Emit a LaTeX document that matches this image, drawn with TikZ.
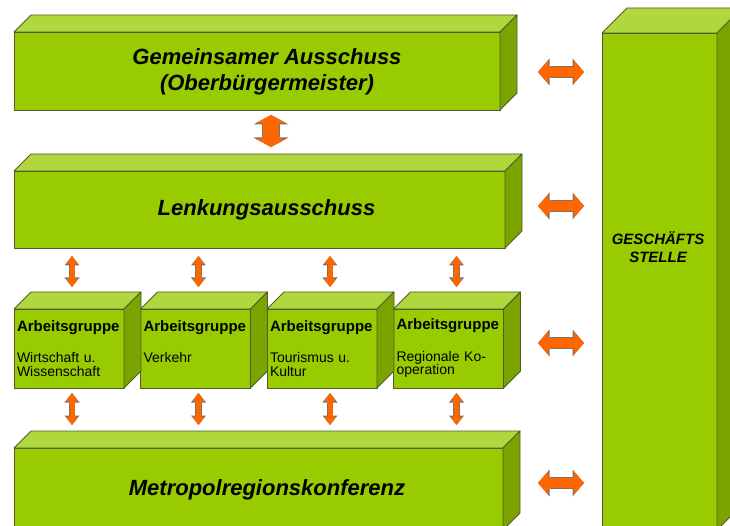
\documentclass[tikz,border=0pt]{standalone}
\usepackage{fontspec}
\setmainfont{Liberation Sans}
\usepackage{tikz}
\usetikzlibrary{arrows.meta, positioning, calc}

\definecolor{frontgreen}{HTML}{99CC00}
\definecolor{topgreen}{HTML}{B0D83E}
\definecolor{sidegreen}{HTML}{7CA400}
\definecolor{boxedge}{HTML}{505C2C}
\definecolor{arroworange}{HTML}{FF6600}
\definecolor{arrowedge}{HTML}{86705F}

\newcommand{\grouphead}{{\fontsize{15}{13.5}\selectfont\bfseries Arbeitsgruppe}}

\begin{document}
\begin{tikzpicture}[
    x=1pt, y=1pt,
    block/.style={rectangle, draw=boxedge, fill=frontgreen, line width=0.8pt, outer sep=0pt, inner sep=0pt, anchor=north west},
    wide/.style={block, minimum width=#1},
    group/.style={block, minimum width=110pt, minimum height=79pt, inner xsep=3pt, text width=104pt, align=left, font=\fontsize{14}{13.5}\selectfont},
    title/.style={font=\fontsize{22}{26}\selectfont\bfseries\itshape, align=center},
    sidetitle/.style={font=\fontsize{15}{18}\selectfont\bfseries\itshape, align=center},
    topface/.style={draw=boxedge, fill=topgreen, line width=0.8pt, line join=round},
    sideface/.style={draw=boxedge, fill=sidegreen, line width=0.8pt, line join=round},
    hlink/.style={draw=arroworange, line width=10pt,
        {Triangle[width=23pt,length=10pt,line width=0pt]}-{Triangle[width=23pt,length=10pt,line width=0pt]},
        preaction={draw=arrowedge, line width=11.6pt,
        {Triangle[width=27pt,length=11.5pt,line width=0pt]}-{Triangle[width=27pt,length=11.5pt,line width=0pt]}}},
    vlink/.style={draw=arroworange, line width=5pt,
        {Triangle[width=12pt,length=8pt,line width=0pt]}-{Triangle[width=12pt,length=8pt,line width=0pt]},
        preaction={draw=arrowedge, line width=6.4pt,
        {Triangle[width=15pt,length=9.5pt,line width=0pt]}-{Triangle[width=15pt,length=9.5pt,line width=0pt]}}},
    biglink/.style={draw=arroworange, line width=16pt,
        {Triangle[width=30pt,length=8pt,line width=0pt]}-{Triangle[width=30pt,length=8pt,line width=0pt]},
        preaction={draw=arrowedge, line width=17.6pt,
        {Triangle[width=35pt,length=9.5pt,line width=0pt]}-{Triangle[width=35pt,length=9.5pt,line width=0pt]}}}
]
\useasboundingbox (0,0) rectangle (730,525);
\fill[white] (0,0) rectangle (730,525);

% main boxes
\node[wide=486pt, minimum height=78pt,
    label={[title, xshift=10pt, yshift=-1pt]center:{Gemeinsamer Ausschuss\\(Oberbürgermeister)}}] (ga) at (14,493) {};
\node[wide=491pt, minimum height=77pt,
    label={[title, xshift=7pt]center:Lenkungsausschuss}] (lenk) at (14,354) {};
\node[wide=489pt, minimum height=82pt,
    label={[title, xshift=8.5pt, yshift=-1pt]center:Metropolregionskonferenz}] (met) at (14,77) {};
\node[block, minimum width=115pt, minimum height=497pt,
    label={[sidetitle, xshift=-1.5pt, yshift=34.5pt]center:{GESCHÄFTS\\STELLE}}] (gs) at (602,492) {};

% working groups
\node[group] (ag1) at (14,216) {\grouphead\\[18pt]Wirtschaft u.\\Wissenschaft};
\node[group, right=16.5pt of ag1] (ag2) {\grouphead\\[18pt]Verkehr\\\mbox{}};
\node[group, right=16.5pt of ag2] (ag3) {\grouphead\\[18pt]Tourismus u.\\Kultur};
\node[group, right=16.5pt of ag3] (ag4) {\grouphead\\[18pt]Regionale Ko-\\operation};

% top and side faces
\foreach \b/\d in {ga/17, lenk/17, ag1/17, ag2/17, ag3/17, ag4/17, met/17, gs/25}{
    \filldraw[topface] (\b.north west) -- ++(\d,\d) -- ([shift={(\d,\d)}]\b.north east) -- (\b.north east) -- cycle;
    \filldraw[sideface] (\b.north east) -- ++(\d,\d) -- ([shift={(\d,\d)}]\b.south east) -- (\b.south east) -- cycle;
}

% arrows
\draw[biglink, shorten <=5pt, shorten >=24pt] ($(ga.south)+(14,0)$) -- ($(ga.south |- lenk.north)+(14,0)$);
\foreach \i/\s in {1/3, 2/3, 3/8, 4/8}{
    \draw[vlink, shorten <=8pt, shorten >=22pt] ($(ag\i.north |- lenk.south)+(\s,0)$) -- ($(ag\i.north)+(\s,0)$);
    \draw[vlink, shorten <=5pt, shorten >=23pt] ($(ag\i.south)+(\s,0)$) -- ($(ag\i.south |- met.north)+(\s,0)$);
}
\foreach \b/\s/\y in {ga/38/-1, lenk/33/3.5, ag4/34.5/5.5, met/35/6}{
    \draw[hlink, shorten <=\s pt, shorten >=18pt] ($(\b.east)+(0,\y)$) -- ($(\b.east -| gs.west)+(0,\y)$);
}

\end{tikzpicture}
\end{document}
